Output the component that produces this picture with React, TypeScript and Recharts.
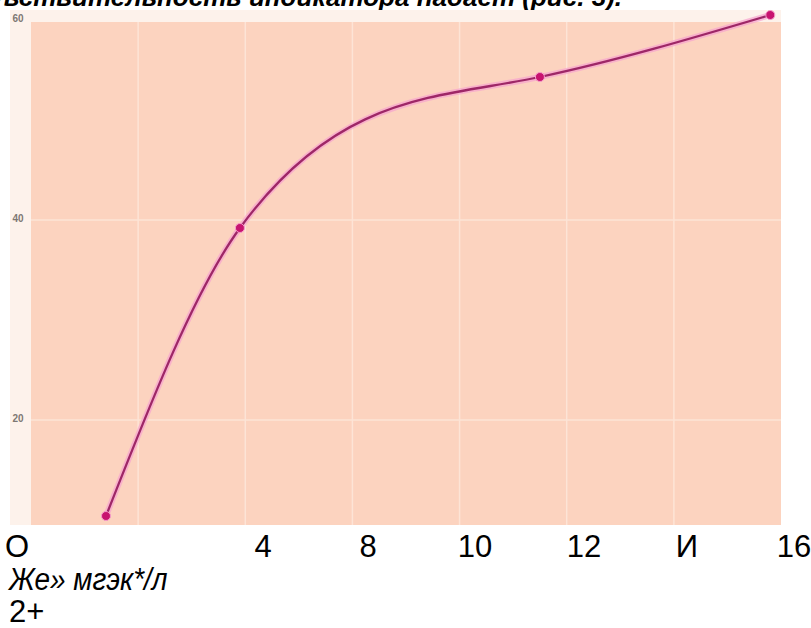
import React from 'react';
import { LineChart, Line, XAxis, YAxis, CartesianGrid, ReferenceArea } from 'recharts';

// ---- data ----
const concentration = [1.4, 3.9, 9.5, 13.8];
const sensitivity = [10.4, 39.2, 54.3, 60.5];
const yTicks = [20, 40, 60];
const xGridTicks = [2, 4, 6, 8, 10, 12];
const xTickLabels = ['O', '4', '8', '10', '12', 'И', '16'];
const axisTitle = 'Же» мгэк*/л';
const axisSub = '2+';
const titleText = 'чувствительность индикатора падает (рис. 3).';

// layout (page px centres of the loose label row)
const xLabelCentres = [17, 263, 368, 475, 584, 687, 794];

const data = concentration.map((c, i) => ({ c, s: sensitivity[i] }));

// smooth cubic through the points, y as a function of x:
// tangents are a blend of natural-spline and monotone tangents
function smoothX(context: any) {
  let xs: number[] = [];
  let ys: number[] = [];
  const blend = 0.6;
  return {
    areaStart() {},
    areaEnd() {},
    lineStart() { xs = []; ys = []; },
    point(x: number, y: number) { xs.push(+x); ys.push(+y); },
    lineEnd() {
      const n = xs.length;
      if (!n) return;
      context.moveTo(xs[0], ys[0]);
      if (n === 1) return;
      if (n === 2) { context.lineTo(xs[1], ys[1]); return; }
      const h: number[] = [];
      const s: number[] = [];
      for (let i = 0; i < n - 1; i++) {
        h[i] = xs[i + 1] - xs[i];
        s[i] = (ys[i + 1] - ys[i]) / h[i];
      }
      const m = n - 2;
      const a: number[] = [], b: number[] = [], c: number[] = [], d: number[] = [];
      for (let k = 0; k < m; k++) {
        const i = k + 1;
        a[k] = h[i - 1];
        b[k] = 2 * (h[i - 1] + h[i]);
        c[k] = h[i];
        d[k] = 6 * (s[i] - s[i - 1]);
      }
      for (let k = 1; k < m; k++) {
        const w = a[k] / b[k - 1];
        b[k] -= w * c[k - 1];
        d[k] -= w * d[k - 1];
      }
      const Mi: number[] = new Array(m).fill(0);
      for (let k = m - 1; k >= 0; k--) {
        Mi[k] = (d[k] - (k < m - 1 ? c[k] * Mi[k + 1] : 0)) / b[k];
      }
      const M = [0, ...Mi, 0];
      const tn: number[] = [];
      for (let i = 0; i < n - 1; i++) {
        tn[i] = s[i] - h[i] * (2 * M[i] + M[i + 1]) / 6;
      }
      tn[n - 1] = s[n - 2] + h[n - 2] * (M[n - 2] + 2 * M[n - 1]) / 6;
      // monotone (d3 style) tangents
      const tm: number[] = [];
      for (let i = 1; i < n - 1; i++) {
        const s0 = s[i - 1], s1 = s[i];
        const p = (s0 * h[i] + s1 * h[i - 1]) / (h[i - 1] + h[i]);
        tm[i] = (Math.sign(s0) + Math.sign(s1)) * Math.min(Math.abs(s0), Math.abs(s1), 0.5 * Math.abs(p)) || 0;
      }
      tm[0] = (3 * s[0] - tm[1]) / 2;
      tm[n - 1] = (3 * s[n - 2] - tm[n - 2]) / 2;
      const t = tn.map((v, i) => blend * v + (1 - blend) * tm[i]);
      for (let i = 0; i < n - 1; i++) {
        const dx = h[i] / 3;
        context.bezierCurveTo(
          xs[i] + dx, ys[i] + dx * t[i],
          xs[i + 1] - dx, ys[i + 1] - dx * t[i + 1],
          xs[i + 1], ys[i + 1]
        );
      }
    },
  };
}

const YTick = (props: any) => {
  const { y, payload } = props;
  return (
    <text x={8} y={y + 2} textAnchor="middle" fontSize={10} fontWeight={700}
      fill="#7d7873" fontFamily="Liberation Sans, Arial, sans-serif">
      {payload.value}
    </text>
  );
};

export default function App() {
  const font = '"Liberation Sans", Arial, sans-serif';
  return (
    <div style={{ position: 'absolute', left: 0, top: 0, width: 811, height: 628, background: '#fff', overflow: 'hidden', fontFamily: font }}>
      <div style={{ position: 'absolute', right: 189, top: -16, fontSize: 26, lineHeight: '26px', fontWeight: 700, fontStyle: 'italic', whiteSpace: 'nowrap', color: '#000' }}>
        {titleText}
      </div>
      <div style={{ position: 'absolute', left: 10, top: 10, width: 771, height: 515, background: '#fdf2eb' }} />
      <div style={{ position: 'absolute', left: 10, top: 0 }}>
        <LineChart width={771} height={525} data={data} margin={{ top: 15, right: 0, bottom: 0, left: 0 }}>
          <CartesianGrid stroke="#fde4d6" strokeWidth={1.5} fill="#fcd3bf" fillOpacity={1}
            horizontalValues={yTicks} verticalValues={xGridTicks} />
          <ReferenceArea x1={0} x2={14} y1={59.8} y2={60.5} fill="#fdf2eb" fillOpacity={1} stroke="none" ifOverflow="extendDomain" />
          <XAxis type="number" dataKey="c" domain={[0, 14]} ticks={xGridTicks} hide />
          <YAxis type="number" domain={[9.5, 60.5]} ticks={yTicks} width={21} axisLine={false} tickLine={false} tick={<YTick />} interval={0} />
          <Line type={smoothX as any} dataKey="s" stroke="#f7a3cf" strokeWidth={6} strokeOpacity={0.7} dot={false} activeDot={false} isAnimationActive={false} />
          <Line type={smoothX as any} dataKey="s" stroke="#9e2767" strokeWidth={2.3}
            dot={{ r: 4.5, fill: '#c8146f', stroke: '#f59ccb', strokeWidth: 1 }} activeDot={false} isAnimationActive={false} />
        </LineChart>
      </div>
      {xTickLabels.map((t, i) => (
        <div key={i} style={{ position: 'absolute', left: xLabelCentres[i], top: 532, transform: 'translateX(-50%)', fontSize: 31, lineHeight: '29px', whiteSpace: 'nowrap', color: '#000' }}>
          {t}
        </div>
      ))}
      <div style={{ position: 'absolute', left: 9, top: 565, fontSize: 31, lineHeight: '29px', fontStyle: 'italic', whiteSpace: 'nowrap', color: '#000', transform: 'scaleX(0.9)', transformOrigin: 'left center' }}>
        {axisTitle}
      </div>
      <div style={{ position: 'absolute', left: 9, top: 597, fontSize: 31, lineHeight: '29px', whiteSpace: 'nowrap', color: '#000' }}>
        {axisSub}
      </div>
    </div>
  );
}
